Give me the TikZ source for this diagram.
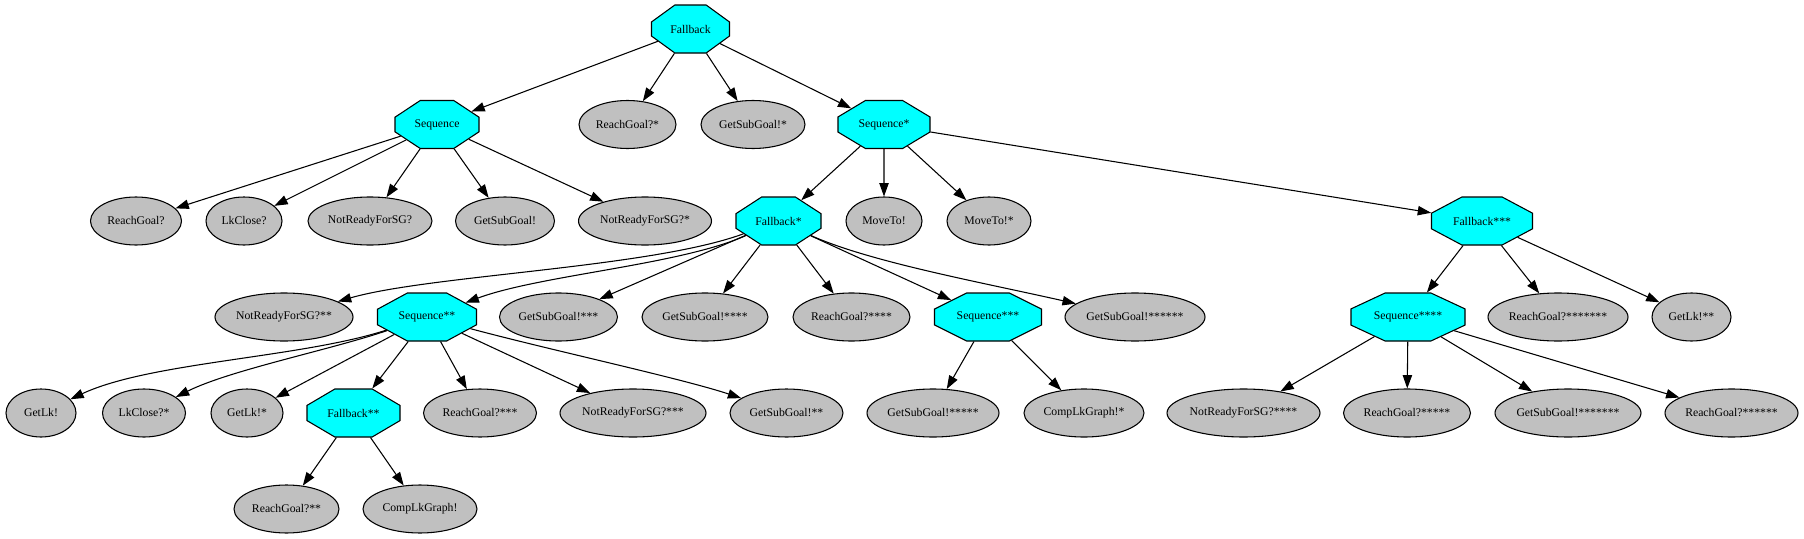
\documentclass[tikz,border=0pt]{standalone}
\usepackage{fontspec}
\setmainfont{Liberation Serif}
\usetikzlibrary{shapes.misc,shapes.geometric,arrows.meta}
\definecolor{ctrlcyan}{RGB}{0,255,255}
\definecolor{leafgray}{RGB}{192,192,192}
\begin{document}
\begin{tikzpicture}[x=0.75pt,y=0.75pt,
  every node/.style={font=\fontsize{8.8}{10}\selectfont, text=black},
  nw/.style={minimum width=#1*0.75pt},
  ca/.style={chamfered rectangle angle=#1},
  leaf/.style={ellipse, draw=black, fill=leafgray, line width=0.8pt, minimum height=36pt, inner sep=0pt},
  ctrl/.style={chamfered rectangle, chamfered rectangle angle=60, chamfered rectangle ysep=10.5pt,
    draw=black, fill=ctrlcyan, line width=0.8pt, minimum height=36pt, inner sep=0pt},
  link/.style={-{Triangle[length=10pt,width=7pt]}, line width=0.8pt},
]
\useasboundingbox (0,0) rectangle (1804,-539);
% row 0
\node[ctrl,ca=54,nw=78] (fb) at (690.5,-29) {Fallback};
% row 1
\node[ctrl,ca=56.5,nw=84] (sq) at (437,-124.5) {Sequence};
\node[leaf,nw=97] (rg1) at (627.5,-124.5) {ReachGoal?*};
\node[leaf,nw=104] (gs1) at (753,-124.5) {GetSubGoal!*};
\node[ctrl,ca=59,nw=92] (sq1) at (884,-124.5) {Sequence*};
% row 2
\node[leaf,nw=91] (rg0) at (136,-221) {ReachGoal?};
\node[leaf,nw=76] (lk0) at (244,-221) {LkClose?};
\node[leaf,nw=124] (nr0) at (370,-221) {NotReadyForSG?};
\node[leaf,nw=99] (gs0) at (505,-221) {GetSubGoal!};
\node[leaf,nw=133] (nr1) at (645,-221) {NotReadyForSG?*};
\node[ctrl,ca=57,nw=85] (fb1) at (778.5,-221) {Fallback*};
\node[leaf,nw=76] (mv0) at (884,-221) {MoveTo!};
\node[leaf,nw=84] (mv1) at (989,-221) {MoveTo!*};
\node[ctrl,ca=62,nw=101] (fb3) at (1482,-221) {Fallback***};
% row 3
\node[leaf,nw=138] (nr2) at (284,-317) {NotReadyForSG?**};
\node[ctrl,ca=61.5,nw=99] (sq2) at (427,-317) {Sequence**};
\node[leaf,nw=118] (gs3) at (558.5,-317) {GetSubGoal!***};
\node[leaf,nw=126] (gs4) at (705,-317) {GetSubGoal!****};
\node[leaf,nw=117] (rg4) at (851.5,-317) {ReachGoal?****};
\node[ctrl,ca=63.5,nw=107] (sq3) at (988,-317) {Sequence***};
\node[leaf,nw=140] (gs6) at (1135,-317) {GetSubGoal!******};
\node[ctrl,ca=65,nw=114] (sq4) at (1408,-317) {Sequence****};
\node[leaf,nw=140] (rg7) at (1558,-317) {ReachGoal?*******};
\node[leaf,nw=79] (gl2) at (1691.5,-317) {GetLk!**};
% row 4
\node[leaf,nw=70] (gl0) at (41,-413) {GetLk!};
\node[leaf,nw=83] (lk1) at (144,-413) {LkClose?*};
\node[leaf,nw=72] (gl1) at (247,-413) {GetLk!*};
\node[ctrl,ca=59.5,nw=93] (fb2) at (353.5,-413) {Fallback**};
\node[leaf,nw=113] (rg3) at (480,-413) {ReachGoal?***};
\node[leaf,nw=146] (nr3) at (633,-413) {NotReadyForSG?***};
\node[leaf,nw=113] (gs2) at (786.5,-413) {GetSubGoal!**};
\node[leaf,nw=132] (gs5) at (933,-413) {GetSubGoal!*****};
\node[leaf,nw=120] (cg1) at (1084,-413) {CompLkGraph!*};
\node[leaf,nw=153] (nr4) at (1243.5,-413) {NotReadyForSG?****};
\node[leaf,nw=127] (rg5) at (1407,-413) {ReachGoal?*****};
\node[leaf,nw=146] (gs7) at (1568,-413) {GetSubGoal!*******};
\node[leaf,nw=133] (rg6) at (1731.5,-413) {ReachGoal?******};
% row 5
\node[leaf,nw=105] (rg2) at (286.5,-509) {ReachGoal?**};
\node[leaf,nw=114] (cg0) at (420,-509) {CompLkGraph!};
% edges
\draw[link] (fb) -- (sq);
\draw[link] (fb) -- (rg1);
\draw[link] (fb) -- (gs1);
\draw[link] (fb) -- (sq1);
\draw[link] (sq) -- (rg0);
\draw[link] (sq) -- (lk0);
\draw[link] (sq) -- (nr0);
\draw[link] (sq) -- (gs0);
\draw[link] (sq) -- (nr1);
\draw[link] (sq1) -- (fb1);
\draw[link] (sq1) -- (mv0);
\draw[link] (sq1) -- (mv1);
\draw[link] (sq1) -- (fb3);
\draw[link] (fb1) .. controls (650,-268) and (430,-275) .. (nr2);
\draw[link] (fb1) .. controls (680,-265) and (540,-275) .. (sq2);
\draw[link] (fb1) -- (gs3);
\draw[link] (fb1) -- (gs4);
\draw[link] (fb1) -- (rg4);
\draw[link] (fb1) -- (sq3);
\draw[link] (fb1) .. controls (870,-262) and (980,-282) .. (gs6);
\draw[link] (fb3) -- (sq4);
\draw[link] (fb3) -- (rg7);
\draw[link] (fb3) -- (gl2);
\draw[link] (sq2) .. controls (300,-358) and (150,-362) .. (gl0);
\draw[link] (sq2) .. controls (330,-350) and (230,-370) .. (lk1);
\draw[link] (sq2) -- (gl1);
\draw[link] (sq2) -- (fb2);
\draw[link] (sq2) -- (rg3);
\draw[link] (sq2) -- (nr3);
\draw[link] (sq2) .. controls (550,-350) and (680,-378) .. (gs2);
\draw[link] (fb2) -- (rg2);
\draw[link] (fb2) -- (cg0);
\draw[link] (sq3) -- (gs5);
\draw[link] (sq3) -- (cg1);
\draw[link] (sq4) -- (nr4);
\draw[link] (sq4) -- (rg5);
\draw[link] (sq4) -- (gs7);
\draw[link] (sq4) -- (rg6);
\end{tikzpicture}
\end{document}
